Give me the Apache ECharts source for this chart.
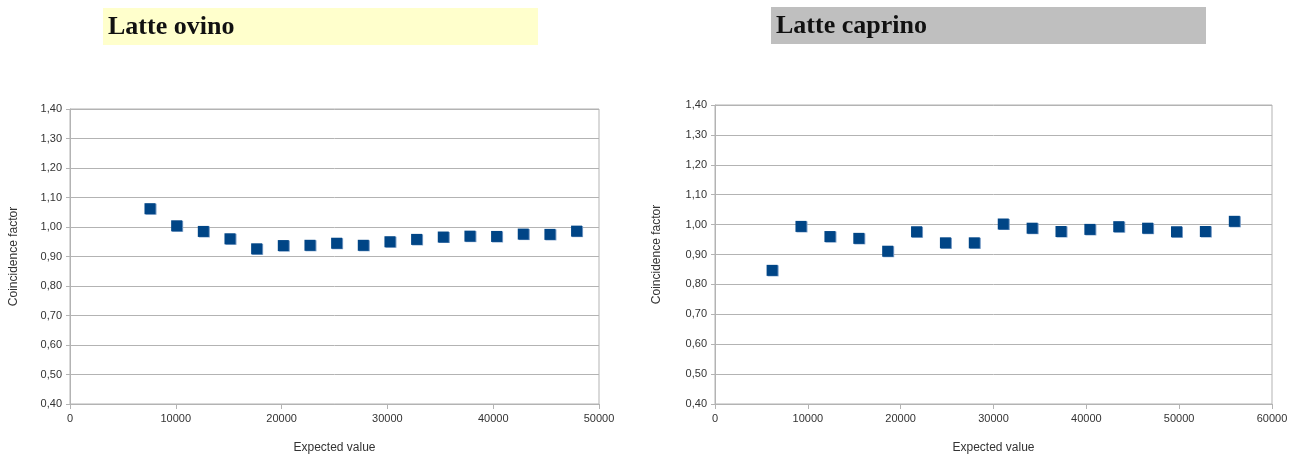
<!DOCTYPE html>
<html lang="it">
<head>
    <meta charset="UTF-8">
    <title>Latte ovino / Latte caprino</title>
    <script src="https://cdn.jsdelivr.net/npm/echarts@6.0.0/dist/echarts.min.js"></script>
    <style>
        html, body { margin: 0; padding: 0; background: #fff; }
        #chart { width: 1301px; height: 459px; }
    </style>
</head>
<body>
    <div id="chart"></div>

    <script>
        // dati
        const ovinoExpected = [7560, 10080, 12600, 15120, 17640, 20160, 22680, 25200, 27720,
            30240, 32760, 35280, 37800, 40320, 42840, 45360, 47880];
        const ovinoFactor = [1.062, 1.004, 0.985, 0.960, 0.926, 0.937, 0.938, 0.945, 0.938,
            0.950, 0.958, 0.966, 0.969, 0.968, 0.976, 0.975, 0.986];

        const caprinoExpected = [6150, 9260, 12380, 15490, 18600, 21710, 24820, 27930, 31050,
            34160, 37270, 40380, 43490, 46600, 49710, 52820, 55940];
        const caprinoFactor = [0.847, 0.994, 0.960, 0.954, 0.911, 0.976, 0.939, 0.939, 1.002,
            0.988, 0.977, 0.984, 0.993, 0.988, 0.976, 0.977, 1.011];

        const titles = ['Latte ovino', 'Latte caprino'];
        const xMax = [50000, 60000];

        const gray = '#b3b3b3';
        const font = 'Liberation Sans, Arial, sans-serif';

        function xAxis(i) {
            return {
                type: 'value', gridIndex: i, min: 0, max: xMax[i], interval: 10000,
                name: 'Expected value', nameLocation: 'middle', nameGap: 38,
                nameTextStyle: { color: '#333', fontSize: 12, fontFamily: font },
                axisLine: { lineStyle: { color: gray } },
                axisTick: { show: true, length: 5, lineStyle: { color: gray } },
                axisLabel: { color: '#333', fontSize: 11, fontFamily: font, margin: 9, formatter: v => String(v) },
                splitLine: { show: false }
            };
        }

        function yAxis(i) {
            return {
                type: 'value', gridIndex: i, min: 0.4, max: 1.4, interval: 0.1,
                name: 'Coincidence factor', nameLocation: 'middle', nameGap: i === 0 ? 50 : 52,
                nameTextStyle: { color: '#333', fontSize: 12, fontFamily: font },
                axisLine: { show: true, lineStyle: { color: gray } },
                axisTick: { show: true, length: 4, lineStyle: { color: gray } },
                axisLabel: {
                    color: '#333', fontSize: 11, fontFamily: font, margin: 8,
                    formatter: v => v.toFixed(2).replace('.', ',')
                },
                splitLine: { lineStyle: { color: gray } }
            };
        }

        function scatter(i, xs, ys) {
            return {
                type: 'scatter', xAxisIndex: i, yAxisIndex: i,
                symbol: 'rect', symbolSize: 11,
                itemStyle: {
                    color: '#004586', opacity: 1,
                    shadowColor: '#6f95c2', shadowOffsetX: 1, shadowOffsetY: 0.5, shadowBlur: 0
                },
                data: xs.map((x, k) => [x, ys[k]])
            };
        }

        function titleBox(x, y, fill, text) {
            return {
                type: 'group', left: x, top: y,
                children: [
                    { type: 'rect', shape: { x: 0, y: 0, width: 435, height: 37 }, style: { fill: fill } },
                    {
                        type: 'text', x: 5, y: 6,
                        style: { text: text, fill: '#111', font: 'bold 26px "Liberation Serif", "Times New Roman", serif' }
                    }
                ]
            };
        }

        const chart = echarts.init(document.getElementById('chart'));
        chart.setOption({
            animation: false,
            backgroundColor: '#fff',
            grid: [
                { left: 70, right: 702, top: 109, bottom: 53, show: true, borderColor: gray, borderWidth: 1 },
                { left: 715, right: 29, top: 105, bottom: 53, show: true, borderColor: gray, borderWidth: 1 }
            ],
            xAxis: [xAxis(0), xAxis(1)],
            yAxis: [yAxis(0), yAxis(1)],
            series: [
                scatter(0, ovinoExpected, ovinoFactor),
                scatter(1, caprinoExpected, caprinoFactor)
            ],
            graphic: [
                titleBox(103, 8, '#ffffcc', titles[0]),
                titleBox(771, 7, '#bfbfbf', titles[1])
            ]
        });
    </script>
</body>
</html>
